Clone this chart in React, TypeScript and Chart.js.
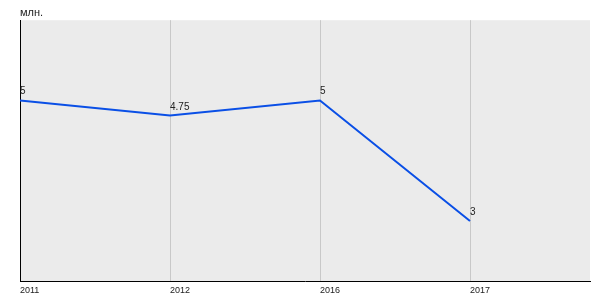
import React, { useEffect, useRef } from "react";
import { Chart, registerables } from "chart.js";

Chart.register(...registerables);

const categories = ["2011", "2012", "2016", "2017"];
const values = [5, 4.75, 5, 3];
const valueLabels = ["5", "4.75", "5", "3"];
const unitLabel = "млн.";

const pointLabels = {
  id: "pointLabels",
  afterDatasetsDraw(chart: any) {
    const ctx = chart.ctx;
    const meta = chart.getDatasetMeta(0);
    ctx.save();
    ctx.font = "10px Arial, 'Liberation Sans', sans-serif";
    ctx.fillStyle = "#222222";
    ctx.textAlign = "left";
    ctx.textBaseline = "alphabetic";
    meta.data.forEach((el: any, i: number) => {
      ctx.fillText(valueLabels[i], el.x, el.y - 6);
    });
    ctx.restore();
  },
};

export default function App() {
  const ref = useRef<HTMLCanvasElement>(null);
  useEffect(() => {
    const chart = new Chart(ref.current!, {
      type: "line",
      data: {
        datasets: [
          {
            data: values.map((v, i) => ({ x: i, y: v })),
            borderColor: "#0a4fe6",
            borderWidth: 2,
            pointRadius: 0,
            tension: 0,
            fill: false,
          },
        ],
      },
      options: {
        animation: false,
        responsive: false,
        maintainAspectRatio: false,
        layout: { padding: { left: 20, right: 10, top: 0, bottom: 0 } },
        plugins: {
          legend: { display: false },
          tooltip: { enabled: false },
          title: {
            display: true,
            text: unitLabel,
            align: "start",
            color: "#222222",
            font: { family: "Arial, 'Liberation Sans', sans-serif", size: 11, weight: "normal" },
            padding: { top: 6, bottom: 1 },
          },
        },
        scales: {
          x: {
            type: "linear",
            min: 0,
            max: 3.8,
            afterBuildTicks: (axis: any) => {
              axis.ticks = categories.map((_, i) => ({ value: i }));
            },
            ticks: {
              align: "start",
              autoSkip: false,
              maxRotation: 0,
              padding: 4,
              color: "#222222",
              font: { family: "Arial, 'Liberation Sans', sans-serif", size: 9 },
              callback: (v: any) => categories[v] ?? "",
            },
            grid: { color: "#c8c8c8", drawTicks: false, lineWidth: 1 },
            border: { display: true, color: "#000000", width: 1 },
          },
          y: {
            min: 2,
            max: 6.333,
            ticks: { display: false },
            grid: { display: false, drawTicks: false },
            border: { display: true, color: "#000000", width: 1 },
          },
        },
      },
      plugins: [
        {
          id: "bg",
          beforeDraw(chart: any) {
            const { ctx, chartArea } = chart;
            ctx.save();
            ctx.fillStyle = "#ebebeb";
            ctx.fillRect(chartArea.left, chartArea.top, chartArea.right - chartArea.left, chartArea.bottom - chartArea.top);
            ctx.restore();
          },
        },
        pointLabels,
      ],
    } as any);
    return () => chart.destroy();
  }, []);
  return (
    <div style={{ position: "absolute", left: 0, top: 0, width: 600, height: 300, background: "#fff" }}>
      <canvas ref={ref} width={600} height={300} style={{ width: 600, height: 300 }} />
    </div>
  );
}
